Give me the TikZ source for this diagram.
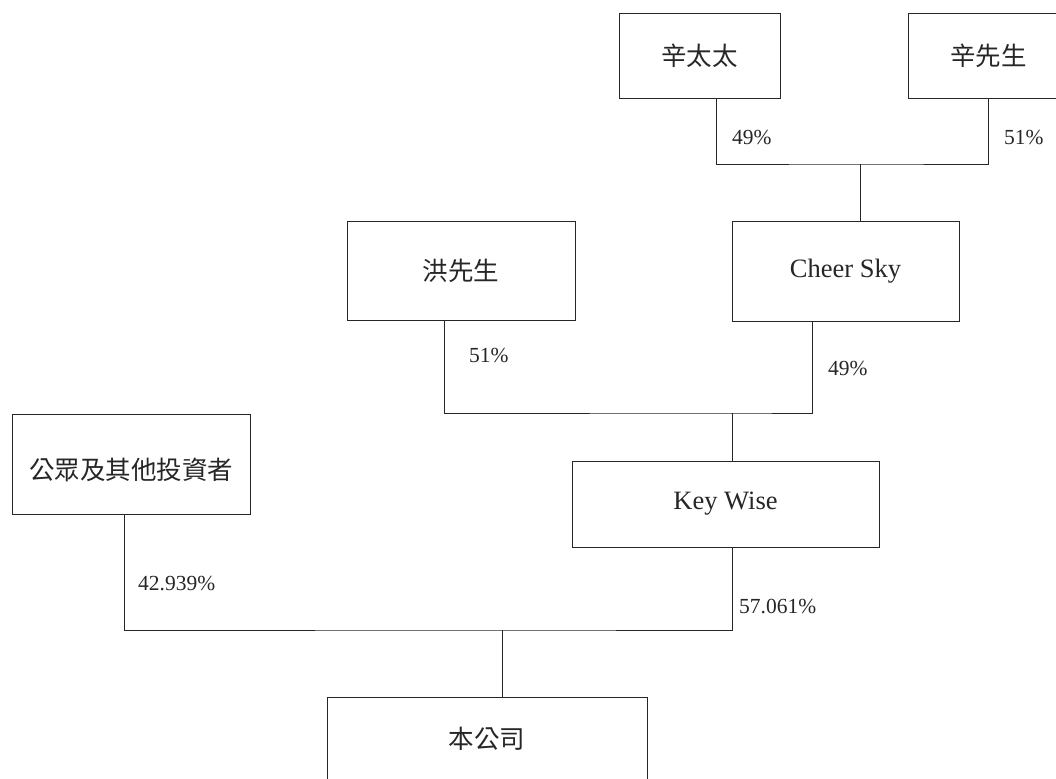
\documentclass[tikz,border=0pt]{standalone}
\usepackage{fontspec}
\setmainfont{Liberation Serif}
\newfontfamily\cjk{Noto Sans CJK TC}
\begin{document}
\begin{tikzpicture}[x=1pt,y=-1pt,
  box/.style={draw=black!85, line width=0.9pt, inner sep=0pt, anchor=center, text=black!85},
  cjkbox/.style={box, font=\cjk\fontsize{25.5}{25.5}\selectfont},
  latbox/.style={box, font=\fontsize{26.5}{26.5}\selectfont},
  pct/.style={anchor=west, inner sep=0pt, font=\fontsize{21.5}{21.5}\selectfont, text=black!85},
  link/.style={draw=black!85, line width=0.9pt}]
\useasboundingbox (0,0) rectangle (1056,778);
\clip (0,0) rectangle (1056,778);

% boxes
\node[cjkbox, minimum width=161pt, minimum height=85pt] (xtt) at (699.5,55.5) {辛太太};
\node[cjkbox, minimum width=161pt, minimum height=85pt] (xxs) at (988.5,55.5) {辛先生};
\node[cjkbox, minimum width=228pt, minimum height=99pt] (hx) at (461,270.5) {洪先生};
\node[latbox, minimum width=227pt, minimum height=100pt] (cs) at (845.5,271) {Cheer Sky};
\node[cjkbox, minimum width=238pt, minimum height=100pt, text height=34pt, text depth=3pt] (gz) at (131,464) {公眾及其他投資者};
\node[latbox, minimum width=307pt, minimum height=86pt] (kw) at (725.5,504) {Key Wise};
\node[cjkbox, minimum width=320pt, minimum height=84pt] (bg) at (487,739) {本公司};

% junctions
\coordinate (j1) at (860,164);
\coordinate (j2) at (732,413);
\coordinate (j3) at (502,630);

% connectors
\draw[link] ([xshift=16.5pt]xtt.south) |- (j1) -| (xxs.south);
\draw[link] (j1) -- (cs.north -| j1);
\draw[link] ([xshift=-17pt]hx.south) |- (j2) -| ([xshift=-33.5pt]cs.south);
\draw[link] (j2) -- (kw.north -| j2);
\draw[link] ([xshift=-7pt]gz.south) |- (j3) -| ([xshift=6.5pt]kw.south);
\draw[link] (j3) -- (bg.north -| j3);

% percentage labels
\node[pct] (p1) at (732,137) {49\%};
\node[pct] (p2) at (1004,137) {51\%};
\node[pct] (p3) at (469,355) {51\%};
\node[pct] (p4) at (828,368) {49\%};
\node[pct] (p5) at (138,583) {42.939\%};
\node[pct] (p6) at (739,606) {57.061\%};
\end{tikzpicture}
\end{document}
